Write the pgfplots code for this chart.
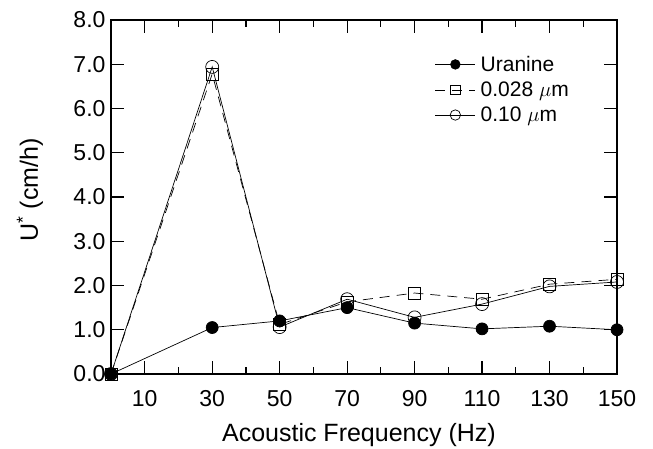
\documentclass[border=0pt]{standalone}
\usepackage{fontspec}
\setmainfont{Liberation Sans}
\usepackage{pgfplots}
\pgfplotsset{compat=1.18}

\begin{document}
\begin{tikzpicture}
\begin{axis}[
    at={(0pt,0pt)}, anchor=south west,
    scale only axis,
    width=506pt, height=354pt,
    xmin=0, xmax=150, ymin=0, ymax=8,
    xtick={10,30,50,70,90,110,130,150},
    minor xtick={20,40,60,80,100,120,140},
    ytick={0,1,...,8},
    tick align=inside,
    major tick length=13pt,
    minor tick length=7pt,
    axis line style={line width=1.2pt},
    every tick/.style={black, line width=1.2pt},
    tick label style={font=\fontsize{23}{26}\selectfont},
    /pgf/number format/assume math mode=true,
    yticklabel style={/pgf/number format/fixed, /pgf/number format/fixed zerofill,
        /pgf/number format/precision=1, xshift=-2pt},
    xticklabel style={yshift=-13pt},
    xlabel={Acoustic Frequency (Hz)},
    ylabel={U\textsuperscript{*} (cm/h)},
    label style={font=\fontsize{25}{28}\selectfont},
    xlabel style={at={(axis description cs:0.49,-0.172)}, anchor=center},
    ylabel style={at={(axis description cs:-0.16,0.52)}, anchor=center, rotate=0},
    clip=false,
    legend style={at={(0.634,0.91)}, anchor=north west, draw=none, fill=none,
        font=\fontsize{21}{24}\selectfont, row sep=5pt,
        /tikz/every odd column/.append style={column sep=3pt}},
    legend cell align=left,
    legend image code/.code={
        \draw[mark repeat=2, mark phase=2, every mark/.append style={scale=0.8}]
            plot coordinates {(0pt,0pt) (20pt,0pt) (40pt,0pt)};
    },
]
\addplot[black, line width=0.7pt, mark=*, mark size=6pt,
    mark options={solid, fill=black}]
    coordinates {(0,0) (30,1.05) (50,1.2) (70,1.5) (90,1.15) (110,1.02) (130,1.08) (150,1.0)};
\addplot[black, line width=0.7pt, dash pattern=on 10pt off 7pt, mark=square, mark size=6pt,
    mark options={solid, line width=0.7pt}]
    coordinates {(0,0) (30,6.78) (50,1.12) (70,1.63) (90,1.83) (110,1.69) (130,2.03) (150,2.14)};
\addplot[black, line width=0.7pt, mark=o, mark size=6.5pt,
    mark options={solid, line width=0.7pt}]
    coordinates {(0,0) (30,6.94) (50,1.06) (70,1.69) (90,1.28) (110,1.58) (130,1.98) (150,2.08)};
\legend{Uranine, 0.028 $\mu$m, 0.10 $\mu$m}
\end{axis}
\pgfresetboundingbox
\path (-111pt,-74pt) rectangle (542pt,374pt);
\end{tikzpicture}
\end{document}
